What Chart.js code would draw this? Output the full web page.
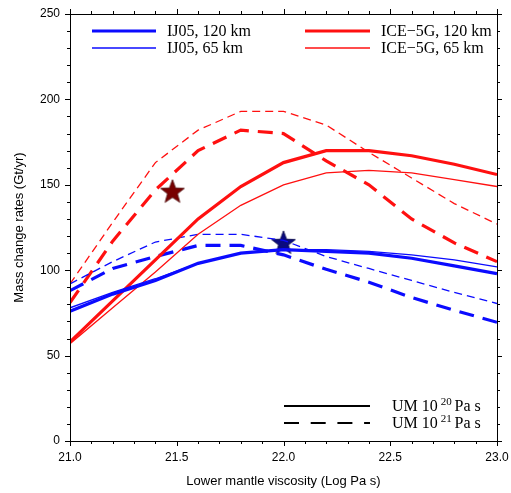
<!DOCTYPE html>
<html>
<head>
<meta charset="utf-8">
<script src="https://cdn.jsdelivr.net/npm/chart.js@4"></script>
<style>
  html, body { margin: 0; padding: 0; background: #fff; }
  #wrap { width: 511px; height: 493px; }
</style>
</head>
<body>
<div id="wrap"><canvas id="grafico" width="511" height="493"></canvas></div>
<script>
// ================= DADOS =================
const VISCOSIDADE = [21.0, 21.2, 21.4, 21.6, 21.8, 22.0, 22.2, 22.4, 22.6, 22.8, 23.0];

// UM 10^20 Pa s (linhas cheias)
const IJ05_120_UM20 = [76, 86, 94, 104, 110, 112, 111, 110, 107, 102.5, 98];
const IJ05_65_UM20  = [78, 87, 95, 104, 110, 112, 112, 111, 109, 106, 102];
const ICE_120_UM20  = [58, 82, 106, 130, 149, 163, 170, 170, 167, 162, 156];
const ICE_65_UM20   = [57, 78, 99, 121, 138, 150, 157, 158.5, 157, 153, 149];

// UM 10^21 Pa s (tracejadas)
const IJ05_120_UM21 = [88, 101, 108, 114.5, 114.5, 109, 100.5, 93, 84, 76.5, 69.5];
const IJ05_65_UM21  = [92, 105, 116.5, 121, 121, 117.5, 108, 101, 94, 87, 80.5];
const ICE_120_UM21  = [81, 117, 147, 170, 182, 180, 164, 150, 130, 116, 105];
const ICE_65_UM21   = [92, 128, 163, 182, 193, 193, 185, 169, 154, 139, 127];

// Estrelas (melhores ajustes)
const ESTRELA_ICE  = [{ x: 21.48, y: 146 }];
const ESTRELA_IJ05 = [{ x: 22.0, y: 116 }];

const X_MIN = 21, X_MAX = 23;
const Y_MIN = 0, Y_MAX = 250;

const AZUL = "#0b0bff";
const VERMELHO = "#ff1010";
const GROSSO = 3.2;
const FINO = 1.3;
const TRACO_GROSSO = [15, 9];
const TRACO_FINO = [8, 5];

const pares = (ys) => VISCOSIDADE.map((x, i) => ({ x, y: ys[i] }));

// ================= ESTRELA (pointStyle) =================
function criarEstrela(cor, borda) {
  const c = document.createElement("canvas");
  c.width = 26; c.height = 26;
  const g = c.getContext("2d");
  const R = 12.5, r = 5.2, cx = 13, cy = 13.5;
  g.beginPath();
  for (let i = 0; i < 10; i++) {
    const rad = i % 2 === 0 ? R : r;
    const a = -Math.PI / 2 + (i * Math.PI) / 5;
    const px = cx + rad * Math.cos(a), py = cy + rad * Math.sin(a);
    if (i === 0) g.moveTo(px, py); else g.lineTo(px, py);
  }
  g.closePath();
  g.fillStyle = cor;
  g.fill();
  g.lineWidth = 0.8;
  g.strokeStyle = borda;
  g.stroke();
  return c;
}

function linha(label, ys, cor, largura, traco) {
  return {
    label,
    data: pares(ys),
    borderColor: cor,
    borderWidth: largura,
    borderDash: traco,
    pointRadius: 0,
    tension: 0,
    fill: false,
  };
}

// ================= MOLDURA E TICKS =================
const moldura = {
  id: "moldura",
  afterDatasetsDraw(chart) {
    const { ctx, chartArea: a, scales: { x, y } } = chart;
    ctx.save();
    ctx.strokeStyle = "#000";
    ctx.lineWidth = 1;
    ctx.strokeRect(Math.round(a.left) + 0.5, Math.round(a.top) + 0.5,
      Math.round(a.right - a.left), Math.round(a.bottom - a.top));
    ctx.beginPath();
    for (let i = 0; i <= 20; i++) {
      const v = X_MIN + i * 0.1;
      const px = Math.round(x.getPixelForValue(v)) + 0.5;
      const len = i % 5 === 0 ? 5 : 3;
      ctx.moveTo(px, a.bottom); ctx.lineTo(px, a.bottom + len);
      ctx.moveTo(px, a.top); ctx.lineTo(px, a.top - len);
    }
    for (let i = 0; i <= 25; i++) {
      const v = i * 10;
      const py = Math.round(y.getPixelForValue(v)) + 0.5;
      const len = i % 5 === 0 ? 5 : 3;
      ctx.moveTo(a.left, py); ctx.lineTo(a.left - len, py);
      ctx.moveTo(a.right, py); ctx.lineTo(a.right + len, py);
    }
    ctx.stroke();
    ctx.restore();
  },
};

// ================= LEGENDAS =================
const legendas = {
  id: "legendas",
  afterDraw(chart) {
    const { ctx } = chart;
    const ds = chart.data.datasets;
    ctx.save();
    ctx.font = '16px "Liberation Serif", "DejaVu Serif", serif';
    ctx.textBaseline = "middle";
    ctx.fillStyle = "#000";

    const itens = [
      { d: ds[0], x0: 92, x1: 156, tx: 167, y: 31 },
      { d: ds[1], x0: 92, x1: 156, tx: 167, y: 48 },
      { d: ds[2], x0: 305, x1: 370, tx: 381, y: 31 },
      { d: ds[3], x0: 305, x1: 370, tx: 381, y: 48 },
    ];
    itens.forEach((it) => {
      ctx.beginPath();
      ctx.setLineDash([]);
      ctx.strokeStyle = it.d.borderColor;
      ctx.lineWidth = it.d.borderWidth;
      ctx.moveTo(it.x0, it.y);
      ctx.lineTo(it.x1, it.y);
      ctx.stroke();
      ctx.fillText(it.d.label, it.tx, it.y + 1);
    });

    // estilo de linha: viscosidade do manto superior
    const estilos = [
      { expo: "20", y: 406, traco: [] },
      { expo: "21", y: 423, traco: [15, 11.7] },
    ];
    estilos.forEach((e) => {
      ctx.beginPath();
      ctx.setLineDash(e.traco);
      ctx.strokeStyle = "#000";
      ctx.lineWidth = 2;
      ctx.moveTo(284, e.y);
      ctx.lineTo(370, e.y);
      ctx.stroke();
      ctx.setLineDash([]);
      ctx.font = '16px "Liberation Serif", "DejaVu Serif", serif';
      ctx.fillText("UM 10", 392, e.y + 1);
      let w = ctx.measureText("UM 10 ").width;
      ctx.font = '11px "Liberation Serif", "DejaVu Serif", serif';
      ctx.fillText(e.expo, 392 + w - 1, e.y - 4);
      const w2 = ctx.measureText(e.expo + " ").width;
      ctx.font = '16px "Liberation Serif", "DejaVu Serif", serif';
      ctx.fillText("Pa s", 392 + w - 1 + w2, e.y + 1);
    });
    ctx.restore();
  },
};

// ================= GRÁFICO =================
const fonteEixo = { family: '"Liberation Sans", Arial, sans-serif', size: 12 };
const fonteTitulo = { family: '"Liberation Sans", Arial, sans-serif', size: 13 };

new Chart(document.getElementById("grafico").getContext("2d"), {
  type: "line",
  data: {
    datasets: [
      linha("IJ05, 120 km", IJ05_120_UM20, AZUL, GROSSO, []),
      linha("IJ05, 65 km", IJ05_65_UM20, AZUL, FINO, []),
      linha("ICE\u22125G, 120 km", ICE_120_UM20, VERMELHO, GROSSO, []),
      linha("ICE\u22125G, 65 km", ICE_65_UM20, VERMELHO, FINO, []),
      linha("IJ05, 120 km (UM 21)", IJ05_120_UM21, AZUL, GROSSO, TRACO_GROSSO),
      linha("IJ05, 65 km (UM 21)", IJ05_65_UM21, AZUL, FINO, TRACO_FINO),
      linha("ICE\u22125G, 120 km (UM 21)", ICE_120_UM21, VERMELHO, GROSSO, TRACO_GROSSO),
      linha("ICE\u22125G, 65 km (UM 21)", ICE_65_UM21, VERMELHO, FINO, TRACO_FINO),
      {
        type: "scatter",
        label: "best ICE-5G",
        data: ESTRELA_ICE,
        pointStyle: criarEstrela("#780000", "#4a0000"),
        pointRadius: 13,
      },
      {
        type: "scatter",
        label: "best IJ05",
        data: ESTRELA_IJ05,
        pointStyle: criarEstrela("#0a0a80", "#000040"),
        pointRadius: 13,
      },
    ],
  },
  options: {
    responsive: false,
    animation: false,
    layout: { padding: { left: 0, right: 13, top: 14, bottom: 0 } },
    plugins: {
      legend: { display: false },
      tooltip: { enabled: false },
    },
    scales: {
      x: {
        type: "linear",
        min: X_MIN,
        max: X_MAX,
        afterFit: (s) => {
          s.height = 52;
          s.paddingLeft = 0;
          s.paddingRight = 0;
        },
        grid: { display: false, drawTicks: false },
        border: { display: false },
        ticks: {
          stepSize: 0.5,
          padding: 9,
          color: "#000",
          font: fonteEixo,
          maxRotation: 0,
          callback: (v) => Number(v).toFixed(1),
        },
        title: {
          display: true,
          text: "Lower mantle viscosity (Log Pa s)",
          color: "#000",
          font: fonteTitulo,
          padding: { top: 0, bottom: 4 },
        },
      },
      y: {
        min: Y_MIN,
        max: Y_MAX,
        afterFit: (s) => {
          s.width = 70;
          s.paddingTop = 0;
          s.paddingBottom = 0;
        },
        grid: { display: false, drawTicks: false },
        border: { display: false },
        ticks: {
          stepSize: 50,
          padding: 10,
          color: "#000",
          font: fonteEixo,
        },
        title: {
          display: true,
          text: "Mass change rates (Gt/yr)",
          color: "#000",
          font: fonteTitulo,
          padding: { top: 12, bottom: 0 },
        },
      },
    },
  },
  plugins: [moldura, legendas],
});
</script>
</body>
</html>
